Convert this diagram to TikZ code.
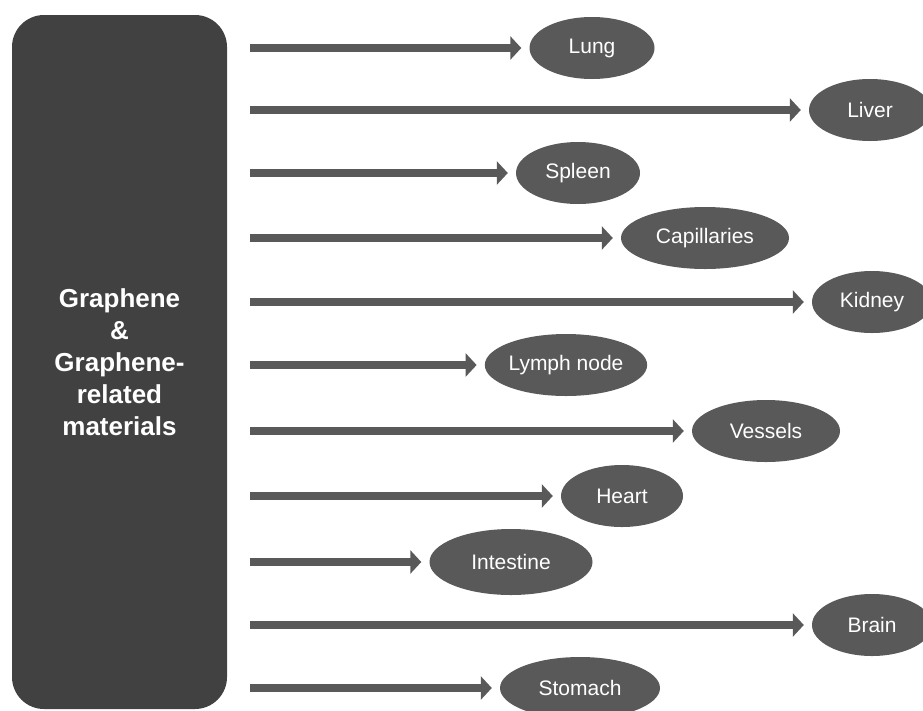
\documentclass[tikz,border=0pt]{standalone}
\usepackage{fontspec}
\setmainfont{Liberation Sans}
\usetikzlibrary{shapes.geometric, arrows.meta}

\definecolor{boxgrey}{HTML}{414141}
\definecolor{organgrey}{HTML}{595959}

\tikzset{
  source/.style={rectangle, rounded corners=32pt, fill=boxgrey, text=white,
    minimum width=215pt, minimum height=694pt, align=center,
    font=\fontsize{26pt}{32pt}\selectfont\bfseries},
  organ/.style={ellipse, fill=organgrey, text=white, inner sep=0pt,
    minimum height=62pt, font=\fontsize{21pt}{25pt}\selectfont},
  flow/.style={draw=organgrey, line width=8.5pt,
    -{Triangle[length=11pt 0 0,width=23pt 0 0]}, shorten <=23pt, shorten >=8pt}
}

\begin{document}
\begin{tikzpicture}[x=1pt,y=-1pt]
   \useasboundingbox (0,0) rectangle (923,710);
   \node[source] (grm) at (119.5,362) {Graphene\\\&\\Graphene-\\related\\materials};

   \node[organ,minimum width=125pt] (lung)  at (592,48)  {Lung};
   \node[organ,minimum width=122pt] (liver) at (870,110) {Liver};
   \node[organ,minimum width=124pt] (spleen) at (578,173) {Spleen};
   \node[organ,minimum width=168pt] (capil) at (705,238) {Capillaries};
   \node[organ,minimum width=120pt] (kidney) at (872,302) {Kidney};
   \node[organ,minimum width=161pt] (lymph) at (566,365) {Lymph node};
   \node[organ,minimum width=148pt] (vessel) at (766,431) {Vessels};
   \node[organ,minimum width=122pt] (heart) at (622,496) {Heart};
   \node[organ,minimum width=163pt,minimum height=66pt] (intest) at (511,562) {Intestine};
   \node[organ,minimum width=120pt] (brain) at (872,625) {Brain};
   \node[organ,minimum width=160pt] (stomach) at (580,688) {Stomach};

    \path[every edge/.style=flow]
    (grm.east |- lung)    edge (lung)
    (grm.east |- liver)   edge (liver)
    (grm.east |- spleen)  edge (spleen)
    (grm.east |- capil)   edge (capil)
    (grm.east |- kidney)  edge (kidney)
    (grm.east |- lymph)   edge (lymph)
    (grm.east |- vessel)  edge (vessel)
    (grm.east |- heart)   edge (heart)
    (grm.east |- intest)  edge (intest)
    (grm.east |- brain)   edge (brain)
    (grm.east |- stomach) edge (stomach);
\end{tikzpicture}
\end{document}
